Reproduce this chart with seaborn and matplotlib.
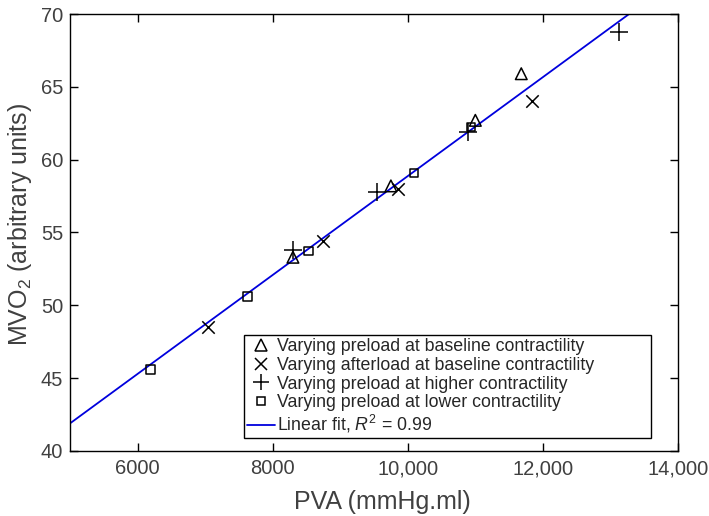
import numpy as np
import pandas as pd
import matplotlib
matplotlib.use("Agg")
import matplotlib.pyplot as plt
from matplotlib.lines import Line2D
from matplotlib.ticker import FixedLocator, FixedFormatter
import seaborn as sns

# ---- data ----
groups = [
    "Varying preload at baseline contractility",
    "Varying afterload at baseline contractility",
    "Varying preload at higher contractility",
    "Varying preload at lower contractility",
]
pva_baseline_preload = [8300, 9750, 11000, 11680]
mvo2_baseline_preload = [53.3, 58.2, 62.7, 65.9]
pva_afterload = [7050, 8740, 9850, 11840]
mvo2_afterload = [48.5, 54.45, 58.0, 64.0]
pva_higher = [8300, 9550, 10890, 13120]
mvo2_higher = [53.8, 57.8, 61.9, 68.75]
pva_lower = [6190, 7625, 8530, 10090, 10940]
mvo2_lower = [45.6, 50.6, 53.75, 59.1, 62.25]

x_ticks = [6000, 8000, 10000, 12000, 14000]
x_ticklabels = ["6000", "8000", "10,000", "12,000", "14,000"]
y_ticks = [40, 45, 50, 55, 60, 65, 70]
r2_label = "0.99"

df = pd.concat([
    pd.DataFrame({"PVA": pva_baseline_preload, "MVO2": mvo2_baseline_preload, "group": groups[0]}),
    pd.DataFrame({"PVA": pva_afterload, "MVO2": mvo2_afterload, "group": groups[1]}),
    pd.DataFrame({"PVA": pva_higher, "MVO2": mvo2_higher, "group": groups[2]}),
    pd.DataFrame({"PVA": pva_lower, "MVO2": mvo2_lower, "group": groups[3]}),
], ignore_index=True)

sns.set_theme(style="ticks")
plt.rcParams["font.family"] = ["Liberation Sans", "DejaVu Sans"]
plt.rcParams["mathtext.fontset"] = "custom"
plt.rcParams["mathtext.rm"] = "Liberation Sans"
plt.rcParams["mathtext.it"] = "Liberation Sans:italic"

fig = plt.figure(figsize=(7.09, 5.16), dpi=100)
ax = fig.add_axes([70 / 709, 65 / 516, 608 / 709, 437 / 516])

markers = {groups[0]: "^", groups[1]: "x", groups[2]: "+", groups[3]: "s"}
sizes = {groups[0]: 70, groups[1]: 80, groups[2]: 150, groups[3]: 36}

# fitted line through all the points
slope, intercept = np.polyfit(df["PVA"], df["MVO2"], 1)
xs = np.array([5000, 14000])
ax.plot(xs, slope * xs + intercept, color="#0000dd", lw=1.3, zorder=2)

for g in groups:
    sub = df[df["group"] == g]
    m = markers[g]
    if m in ("x", "+"):
        sns.scatterplot(data=sub, x="PVA", y="MVO2", marker=m, s=sizes[g],
                        color="black", linewidth=1.1, ax=ax, zorder=3, legend=False)
    else:
        sns.scatterplot(data=sub, x="PVA", y="MVO2", marker=m, s=sizes[g],
                        facecolor="none", edgecolor="black", linewidth=1.1,
                        ax=ax, zorder=3, legend=False)

ax.set_xlim(5000, 14000)
ax.set_ylim(40, 70)
ax.xaxis.set_major_locator(FixedLocator(x_ticks))
ax.xaxis.set_major_formatter(FixedFormatter(x_ticklabels))
ax.set_yticks(y_ticks)

for s in ax.spines.values():
    s.set_visible(True)
    s.set_color("black")
    s.set_linewidth(1.0)

ax.tick_params(direction="in", top=True, right=True, length=6, width=1,
               labelsize=14.5, labelcolor="#404040", color="black", pad=5)
ax.tick_params(axis="x", pad=6)

ax.set_xlabel("PVA (mmHg.ml)", fontsize=18, color="#404040", labelpad=8.5)
ax.set_ylabel("MVO$_2$ (arbitrary units)", fontsize=18, color="#404040", labelpad=5)
ax.xaxis.label.set_x(0.514)
ax.yaxis.label.set_y(0.518)

handles = [
    Line2D([], [], ls="none", marker="^", ms=8, mfc="none", mec="black", mew=1.1),
    Line2D([], [], ls="none", marker="x", ms=8.5, color="black", mew=1.1),
    Line2D([], [], ls="none", marker="+", ms=11, color="black", mew=1.1),
    Line2D([], [], ls="none", marker="s", ms=5.5, mfc="none", mec="black", mew=1.1),
    Line2D([], [], color="#0000dd", lw=1.3),
]
labels = groups + [f"Linear fit, $R^2$ = {r2_label}"]
x0 = (244 - 70) / 608
y0 = (451 - 438) / 437
w = (651 - 244) / 608
h = (438 - 325) / 437
leg = ax.legend(handles, labels, loc="lower left", mode="expand",
                bbox_to_anchor=(x0, y0, w, h),
                fontsize=12.8, frameon=True, fancybox=False, edgecolor="black",
                framealpha=1, handlelength=1.6, handletextpad=0.1,
                borderpad=0.15, labelspacing=0.1, borderaxespad=0)
leg.get_frame().set_linewidth(1.0)

fig.savefig("out.png", dpi=100)
